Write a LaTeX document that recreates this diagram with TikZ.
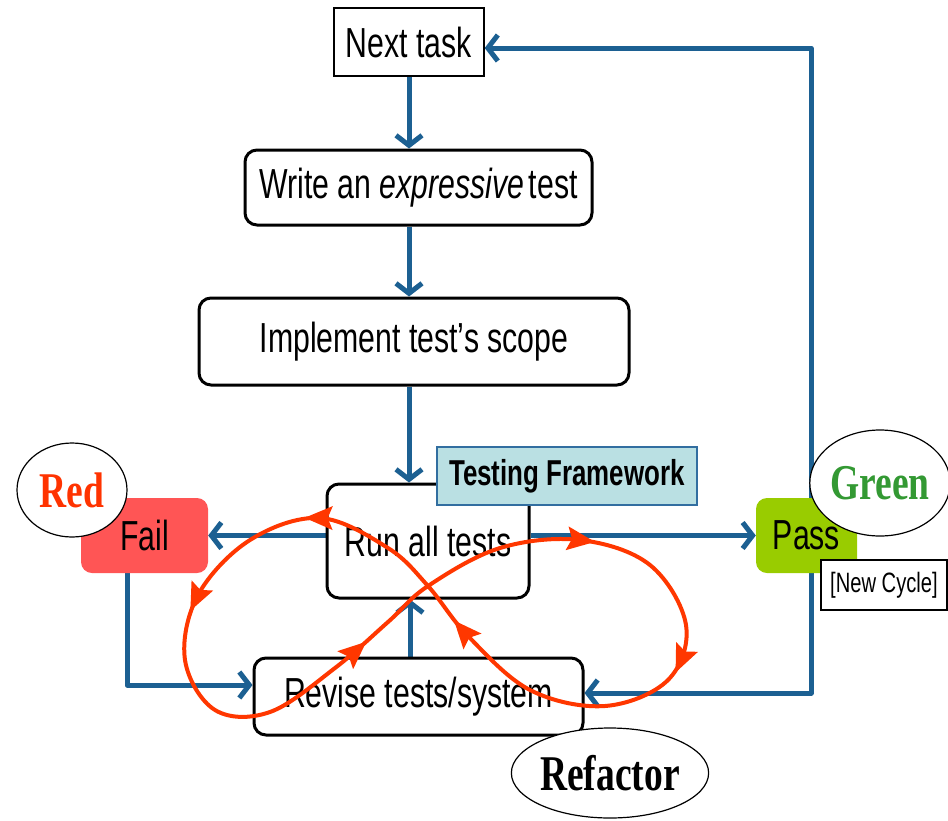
\documentclass[tikz,border=0pt]{standalone}
\usepackage{fontspec}
\setmainfont{Liberation Sans}[FakeStretch=0.72]
\newfontfamily\serifb{Liberation Serif}[FakeStretch=0.75]
\usetikzlibrary{arrows.meta,shapes.geometric,decorations.markings}
\definecolor{flowblue}{RGB}{28,96,146}
\definecolor{failred}{RGB}{255,85,85}
\definecolor{passgreen}{RGB}{153,204,0}
\definecolor{tfblue}{RGB}{186,224,227}
\definecolor{tfedge}{RGB}{50,110,160}
\definecolor{loopred}{RGB}{255,55,0}
\definecolor{redtxt}{RGB}{255,51,0}
\definecolor{greentxt}{RGB}{51,153,51}
\pgfdeclarelayer{background}
\pgfsetlayers{background,main}
\newcommand{\loophd}{\fill[loophead] (12pt,0pt) -- (-16pt,12pt) -- (-11pt,0pt) -- (-16pt,-12pt) -- cycle;}
\begin{document}
\begin{tikzpicture}[x=1pt,y=-1pt,
  mainfont/.style={font=\fontsize{42}{44}\selectfont},
  box/.style={draw=black, line width=3pt, rounded corners=12pt, fill=white, inner sep=0pt, mainfont},
  plainbox/.style={draw=black, line width=1.3pt, fill=white, inner sep=0pt, mainfont},
  statebox/.style={rounded corners=11pt, inner sep=0pt, mainfont},
  tfbox/.style={draw=tfedge, line width=1.3pt, fill=tfblue, inner sep=0pt, font=\fontsize{36}{38}\selectfont\bfseries},
  ncbox/.style={draw=black, line width=1.3pt, fill=white, inner sep=0pt, font=\fontsize{28}{30}\selectfont},
  tag/.style={ellipse, draw=black, line width=1.2pt, fill=white, inner sep=0pt, font=\serifb\bfseries\fontsize{50}{52}\selectfont},
  conn/.style={draw=flowblue, line width=5pt, line join=round, -{Straight Barb[length=10pt,width=26pt]}},
  loophead/.style={fill=loopred, draw=none},
  loop/.style={draw=loopred, line width=4pt,
    postaction={decorate},
    decoration={markings,
      mark=at position 0.063 with {\loophd},
      mark=at position 0.199 with {\loophd},
      mark=at position 0.395 with {\loophd},
      mark=at position 0.537 with {\loophd},
      mark=at position 0.652 with {\loophd},
      mark=at position 0.867 with {\loophd}}}
]
\useasboundingbox (0,0) rectangle (948,820);

% nodes
\node[plainbox, minimum width=150, minimum height=68] (next) at (409,42) {Next task};
\node[box, minimum width=347, minimum height=75] (write) at (418.5,187.5) {Write an \textit{expressive}\hspace{-4pt} test};
\node[box, minimum width=430, minimum height=87] (impl) at (414,341.5) {Implement test's scope};
\node[box, minimum width=202, minimum height=114] (run) at (428,541) {Run all tests};
\node[box, minimum width=329, minimum height=77] (rev) at (418.5,696.5) {Revise tests/system};
\node[statebox, fill=failred, minimum width=127, minimum height=75] (fail) at (144.5,535.5) {Fail};
\node[statebox, fill=passgreen, minimum width=101, minimum height=75] (pass) at (806.5,535.5) {Pass};
\node[tfbox, minimum width=260, minimum height=58] (tf) at (567,476) {Testing Framework};
\node[ncbox, minimum width=126, minimum height=50] (nc) at (884,585) {[New Cycle]};
\node[tag, minimum width=110, minimum height=94, text=redtxt] (red) at (72,490) {Red};
\node[tag, minimum width=119, minimum height=106, text=greentxt] (green) at (880,483) {Green};
\node[tag, minimum width=164, minimum height=90] (refactor) at (610,773) {Refactor};

% helper coordinates for connector columns / rows
\coordinate (colA) at (409,0);
\coordinate (colB) at (410,0);
\coordinate (failrow) at (127,685);
\coordinate (toprow) at (811,48);
\coordinate (botrow) at (811,693);

% connectors
\begin{pgfonlayer}{background}
\draw[conn] (next.south -| colA) -- (write.north -| colA);
\draw[conn] (write.south -| colA) -- (impl.north -| colA);
\draw[conn] (impl.south -| colA) -- (run.north -| colA);
\draw[conn] (run.west |- fail.east) -- (fail.east);
\draw[conn] (run.east |- pass.west) -- (pass.west);
\draw[conn] (fail.south -| failrow) |- (rev.west |- failrow);
\draw[conn] (rev.north -| colB) -- (run.south -| colB);
\draw[conn] (pass.north -| toprow) |- (next.east |- toprow);
\draw[conn] (pass.south -| botrow) |- (rev.east |- botrow);
\end{pgfonlayer}

% red-green-refactor figure eight
\draw[loop] plot[smooth cycle, tension=0.6] coordinates {
  (428,586) (500,548) (580,540) (650,565) (686,625) (668,680) (605,706)
  (530,690) (468,636) (428,586) (388,548) (320,518) (250,540) (198,595)
  (185,660) (215,710) (270,712) (335,668) (388,622)};
\end{tikzpicture}
\end{document}
